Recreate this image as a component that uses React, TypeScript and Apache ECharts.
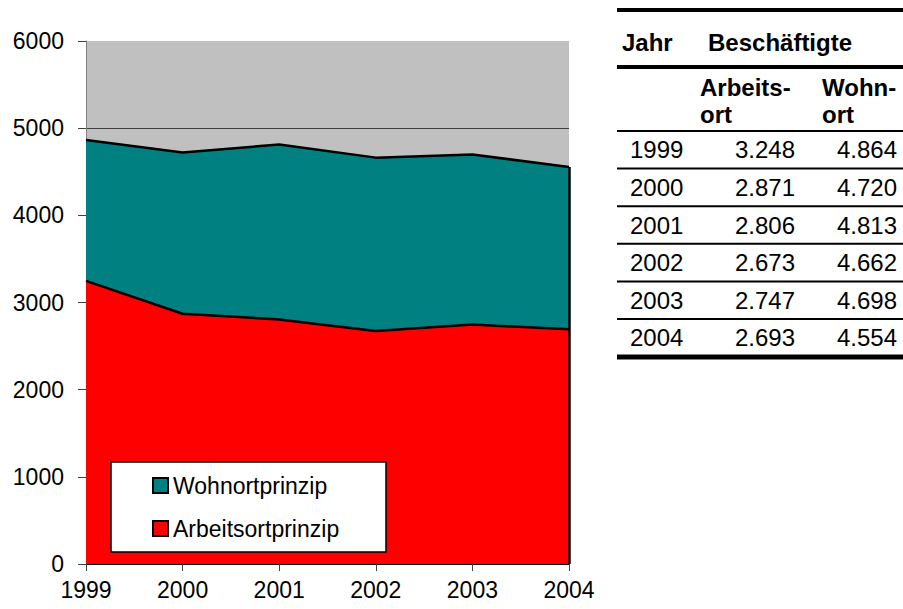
import React, { useEffect, useRef } from "react";
import * as echarts from "echarts";

const years = ["1999", "2000", "2001", "2002", "2003", "2004"];
const arbeitsort = [3248, 2871, 2806, 2673, 2747, 2693];
const wohnort = [4864, 4720, 4813, 4662, 4698, 4554];
const yTicks = { min: 0, max: 6000, interval: 1000 };
const seriesNames = ["Wohnortprinzip", "Arbeitsortprinzip"];
const tableHeader = { jahr: "Jahr", group: "Beschäftigte", col1: ["Arbeits-", "ort"], col2: ["Wohn-", "ort"] };

const FONT = "'Liberation Sans', Arial, sans-serif";

const fmt = (v: number) => {
  const s = String(v);
  return s.length > 3 ? s.slice(0, -3) + "." + s.slice(-3) : s;
};

function buildTable(): any[] {
  const els: any[] = [];
  const x0 = 617;
  const x1 = 903;
  const hline = (y: number, h: number) => ({
    type: "rect",
    shape: { x: x0, y: y - h / 2, width: x1 - x0, height: h },
    style: { fill: "#000" },
    silent: true,
  });
  const txt = (text: string, x: number, y: number, align: string, bold = false) => ({
    type: "text",
    x,
    y,
    style: {
      text,
      fill: "#000",
      font: `${bold ? "bold " : ""}24px ${FONT}`,
      align,
      verticalAlign: "middle",
    },
    silent: true,
  });
  els.push(hline(10, 4));
  els.push(txt(tableHeader.jahr, 622, 42, "left", true));
  els.push(txt(tableHeader.group, 708, 42, "left", true));
  els.push(hline(67, 4));
  els.push(txt(tableHeader.col1[0], 700, 87, "left", true));
  els.push(txt(tableHeader.col1[1], 700, 114, "left", true));
  els.push(txt(tableHeader.col2[0], 822, 87, "left", true));
  els.push(txt(tableHeader.col2[1], 822, 114, "left", true));
  els.push(hline(131, 2));
  const rowTop = 131;
  const rowH = 37.6;
  years.forEach((yr, i) => {
    const cy = rowTop + rowH * i + rowH / 2;
    els.push(txt(yr, 630, cy, "left"));
    els.push(txt(fmt(arbeitsort[i]), 795, cy, "right"));
    els.push(txt(fmt(wohnort[i]), 897, cy, "right"));
    if (i < years.length - 1) els.push(hline(rowTop + rowH * (i + 1), 2));
  });
  els.push(hline(357, 5));
  return els;
}

export default function App() {
  const ref = useRef<HTMLDivElement>(null);
  useEffect(() => {
    if (!ref.current) return;
    const chart = echarts.init(ref.current, undefined, { renderer: "svg" });
    const last = years[years.length - 1];
    chart.setOption({
      animation: false,
      textStyle: { fontFamily: FONT },
      grid: {
        left: 86,
        right: 334,
        top: 41,
        bottom: 45,
        show: true,
        backgroundColor: "#c0c0c0",
        borderWidth: 0,
      },
      xAxis: {
        type: "category",
        data: years,
        boundaryGap: false,
        axisLine: { lineStyle: { color: "#000", width: 1 } },
        axisTick: { show: true, length: 7, lineStyle: { color: "#404040" } },
        axisLabel: { color: "#000", fontSize: 23, margin: 14, fontFamily: FONT },
        splitLine: { show: false },
      },
      yAxis: {
        type: "value",
        min: yTicks.min,
        max: yTicks.max,
        interval: yTicks.interval,
        axisLine: { show: true, lineStyle: { color: "#808080", width: 1 } },
        axisTick: { show: true, length: 8, lineStyle: { color: "#404040" } },
        axisLabel: {
          color: "#000",
          fontSize: 23,
          margin: 22,
          fontFamily: FONT,
          formatter: (v: number) => String(v),
        },
        splitLine: { show: true, showMaxLine: false, lineStyle: { color: "#404040", width: 1 } },
      },
      legend: {
        orient: "vertical",
        left: 152,
        top: 474,
        itemGap: 20,
        itemWidth: 15,
        itemHeight: 15,
        icon: "rect",
        padding: 0,
        textStyle: { fontSize: 23, color: "#000", fontFamily: FONT, lineHeight: 23 },
        data: [
          { name: seriesNames[0], itemStyle: { color: "#008080", borderColor: "#000", borderWidth: 2 } },
          { name: seriesNames[1], itemStyle: { color: "#ff0000", borderColor: "#000", borderWidth: 2 } },
        ],
      },
      graphic: [
        {
          type: "rect",
          z: 3,
          shape: { x: 111, y: 462, width: 275, height: 90 },
          style: { fill: "#fff", stroke: "#000", lineWidth: 1.5 },
          silent: true,
        },
        ...buildTable(),
      ],
      series: [
        {
          name: seriesNames[0],
          type: "line",
          data: wohnort,
          color: "#008080",
          symbol: "none",
          z: 2,
          lineStyle: { color: "#000", width: 2.5 },
          areaStyle: { color: "#008080", opacity: 1 },
        },
        {
          name: seriesNames[1],
          type: "line",
          data: arbeitsort,
          color: "#ff0000",
          symbol: "none",
          z: 2,
          lineStyle: { color: "#000", width: 2.5 },
          areaStyle: { color: "#ff0000", opacity: 1 },
          markLine: {
            silent: true,
            symbol: "none",
            label: { show: false },
            lineStyle: { color: "#000", width: 2.5, type: "solid" },
            data: [[{ coord: [last, 0] }, { coord: [last, wohnort[wohnort.length - 1]] }]],
          },
        },
      ],
    });
    return () => chart.dispose();
  }, []);
  return (
    <div
      ref={ref}
      style={{ position: "absolute", left: 0, top: 0, width: 903, height: 609, background: "#fff" }}
    />
  );
}
